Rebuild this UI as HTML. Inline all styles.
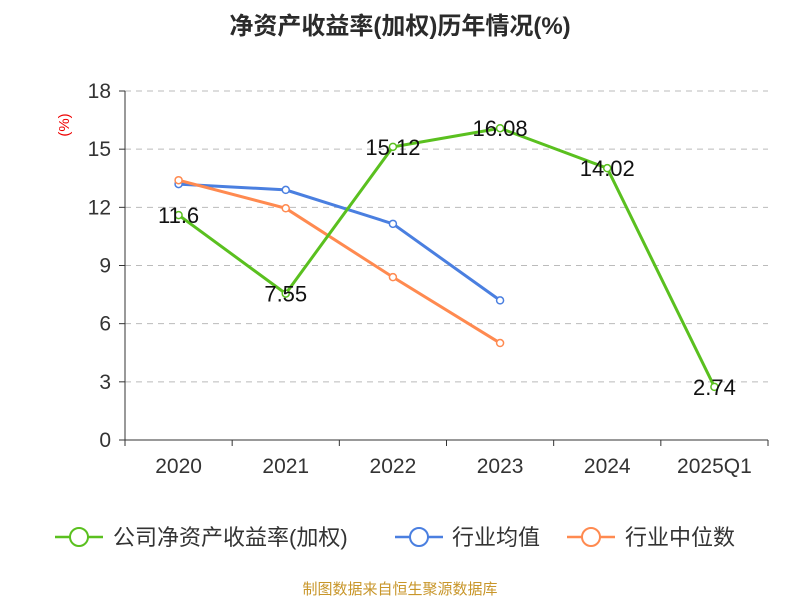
<!DOCTYPE html>
<html><head><meta charset="utf-8"><style>
body{margin:0;background:#fff;}
svg text{font-family:"Liberation Sans","Noto Sans CJK SC",sans-serif;}
</style></head><body>
<svg id="chart" width="800" height="600">
<text x="400" y="34" text-anchor="middle" font-size="24" font-weight="bold" fill="#2b2b2b">净资产收益率(加权)历年情况(%)</text>
<text x="69" y="125" text-anchor="middle" font-size="15" fill="#e00" transform="rotate(-90 69 125)">(%)</text>
<g id="grid"></g><g id="axes"></g><g id="series"></g>
<g>
<g><line x1="55" y1="537" x2="103" y2="537" stroke="#5ac01f" stroke-width="2.5"/><circle cx="79" cy="537" r="9" fill="#fff" stroke="#5ac01f" stroke-width="2"/><text x="113" y="545" font-size="22" fill="#333">公司净资产收益率(加权)</text></g>
<g><line x1="395" y1="537" x2="443" y2="537" stroke="#4a7fe0" stroke-width="2.5"/><circle cx="419" cy="537" r="9" fill="#fff" stroke="#4a7fe0" stroke-width="2"/><text x="452" y="545" font-size="22" fill="#333">行业均值</text></g>
<g><line x1="567" y1="537" x2="615" y2="537" stroke="#ff8a50" stroke-width="2.5"/><circle cx="591" cy="537" r="9" fill="#fff" stroke="#ff8a50" stroke-width="2"/><text x="625" y="545" font-size="22" fill="#333">行业中位数</text></g>
</g>
<text x="400" y="594" text-anchor="middle" font-size="15" fill="#c8962a">制图数据来自恒生聚源数据库</text>
</svg>
<script>
const categories=["2020","2021","2022","2023","2024","2025Q1"];
const companyValues=[11.6,7.55,15.12,16.08,14.02,2.74];
const industryAvg=[13.2,12.9,11.15,7.2];
const industryMedian=[13.4,11.95,8.4,5.0];
const yTicks=[0,3,6,9,12,15,18];
const NS="http://www.w3.org/2000/svg";
const x0=125,x1=768,yb=440,yt=91,ymax=18;
const bw=(x1-x0)/categories.length;
const xs=i=>x0+bw*(i+0.5);
const ys=v=>yb-(v/ymax)*(yb-yt);
function mk(p,t,a){const e=document.createElementNS(NS,t);for(const k in a)e.setAttribute(k,a[k]);p.appendChild(e);return e;}
const grid=document.getElementById('grid'),axes=document.getElementById('axes'),ser=document.getElementById('series');
yTicks.forEach(v=>{
 if(v>0){const l=mk(grid,'line',{x1:x0,x2:x1,y1:ys(v),y2:ys(v),stroke:'#bbb','stroke-dasharray':'6,5'});
 
 }
 mk(axes,'line',{x1:x0-6,x2:x0,y1:ys(v),y2:ys(v),stroke:'#333'});
 const t=mk(axes,'text',{x:x0-14,y:ys(v)+7,'text-anchor':'end','font-size':21,fill:'#333'});t.textContent=v;
 
 
});
mk(axes,'line',{x1:x0,x2:x0,y1:yt,y2:yb,stroke:'#333'});
mk(axes,'line',{x1:x0,x2:x1,y1:yb,y2:yb,stroke:'#333'});
for(let i=0;i<=categories.length;i++)mk(axes,'line',{x1:x0+bw*i,x2:x0+bw*i,y1:yb,y2:yb+6,stroke:'#333'});
categories.forEach((c,i)=>{const t=mk(axes,'text',{x:xs(i),y:473,'text-anchor':'middle','font-size':21,fill:'#333'});t.textContent=c;
 
 });
function line(vals,color,name,labels){
 const g=mk(ser,'g',{});
 
 
 mk(g,'polyline',{points:vals.map((v,i)=>xs(i)+','+ys(v)).join(' '),fill:'none',stroke:color,'stroke-width':3});
 vals.forEach((v,i)=>{const c=mk(g,'circle',{cx:xs(i),cy:ys(v),r:3.5,fill:'#fff',stroke:color,'stroke-width':1.5});
  
  
  if(labels){const t=mk(g,'text',{x:xs(i),y:ys(v)+8,'text-anchor':'middle','font-size':22,fill:'#111'});t.textContent=v;
   
   }});
}
line(industryAvg,'#4a7fe0','industry-avg-line',false);
line(industryMedian,'#ff8a50','industry-median-line',false);
line(companyValues,'#5ac01f','company-roe-line',true);
</script>
</body></html>
